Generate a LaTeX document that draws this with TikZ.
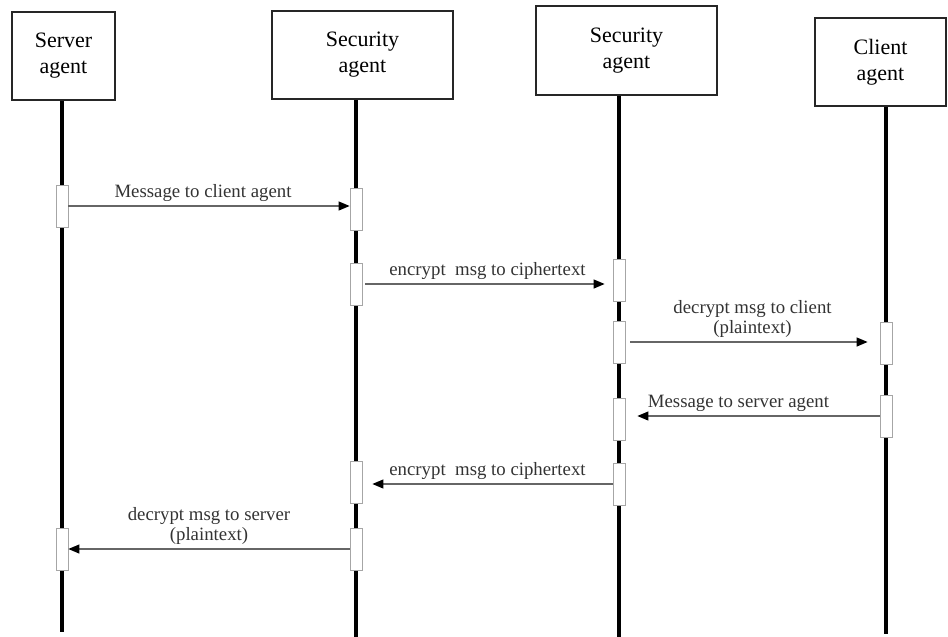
\documentclass[tikz,border=0pt]{standalone}
\usepackage{fontspec}
\setmainfont{Liberation Serif}
\usetikzlibrary{arrows.meta, positioning, calc}
\tikzset{>={Triangle[length=5.5pt,width=4.5pt,color=black]}}
\tikzset{
  agent/.style={draw=black!85, line width=1.1pt, align=center, inner sep=0pt,
    font=\fontsize{11}{13}\selectfont},
  life/.style={line width=1.6pt},
  act/.style={draw=black!35, fill=white, minimum width=6pt, minimum height=21pt, inner sep=0pt},
  msg/.style={->, draw=black!60, line width=0.6pt},
  lbl/.style={font=\fontsize{9.4}{10.2}\selectfont, text=black!80, align=center, inner sep=2pt}
}

\begin{document}
\begin{tikzpicture}[x=0.5pt,y=-0.5pt]
\useasboundingbox (0,0) rectangle (948,637);

\node[agent, minimum width=51.5pt, minimum height=44pt] (srv) at (63.5,56) {Server\\agent};
\node[agent, minimum width=90.5pt, minimum height=44pt] (secA) at (362.5,55) {Security\\agent};
\node[agent, minimum width=90.5pt, minimum height=44.5pt] (secB) at (626.5,50.5) {Security\\agent};
\node[agent, minimum width=65.5pt, minimum height=44pt] (cli) at (880.5,62) {Client\\agent};

\coordinate (srvEnd) at (62,632);
\coordinate (secAEnd) at (356,637);
\coordinate (secBEnd) at (619,637);
\coordinate (cliEnd) at (886,634);

\draw[life] (srv.south -| srvEnd) -- (srvEnd);
\draw[life] (secA.south -| secAEnd) -- (secAEnd);
\draw[life] (secB.south -| secBEnd) -- (secBEnd);
\draw[life] (cli.south -| cliEnd) -- (cliEnd);

% activations
\node[act] (s1) at (62,206) {};
\node[act] (s2) at (62,549) {};
\node[act] (a1) at (356,209) {};
\node[act] (a2) at (356,284) {};
\node[act] (a3) at (356,482) {};
\node[act] (a4) at (356,549) {};
\node[act] (b1) at (619,280) {};
\node[act] (b2) at (619,342) {};
\node[act] (b3) at (619,419) {};
\node[act] (b4) at (619,484) {};
\node[act] (c1) at (886,343) {};
\node[act] (c2) at (886,416) {};

% messages
\draw[msg] (s1.east) -- (s1.east -| a1.west)
  node[midway, above, lbl, xshift=-3pt] {Message to client agent};
\draw[msg, shorten <=1.5pt, shorten >=4pt] (a2.east) -- (a2.east -| b1.west)
  node[midway, above, lbl] {encrypt\ \ msg to ciphertext};
\draw[msg, shorten <=2.5pt, shorten >=6pt] (b2.east) -- (b2.east -| c1.west)
  node[midway, above, lbl] {decrypt msg to client\\(plaintext)};
\draw[msg, shorten >=6pt] (c2.west) -- (c2.west -| b3.east)
  node[midway, above, lbl, xshift=-7pt] {Message to server agent};
\draw[msg, shorten >=5pt] (b4.west) -- (b4.west -| a3.east)
  node[midway, above, lbl] {encrypt\ \ msg to ciphertext};
\draw[msg] (a4.west) -- (a4.west -| s2.east)
  node[midway, above, lbl] {decrypt msg to server\\(plaintext)};
\end{tikzpicture}
\end{document}
